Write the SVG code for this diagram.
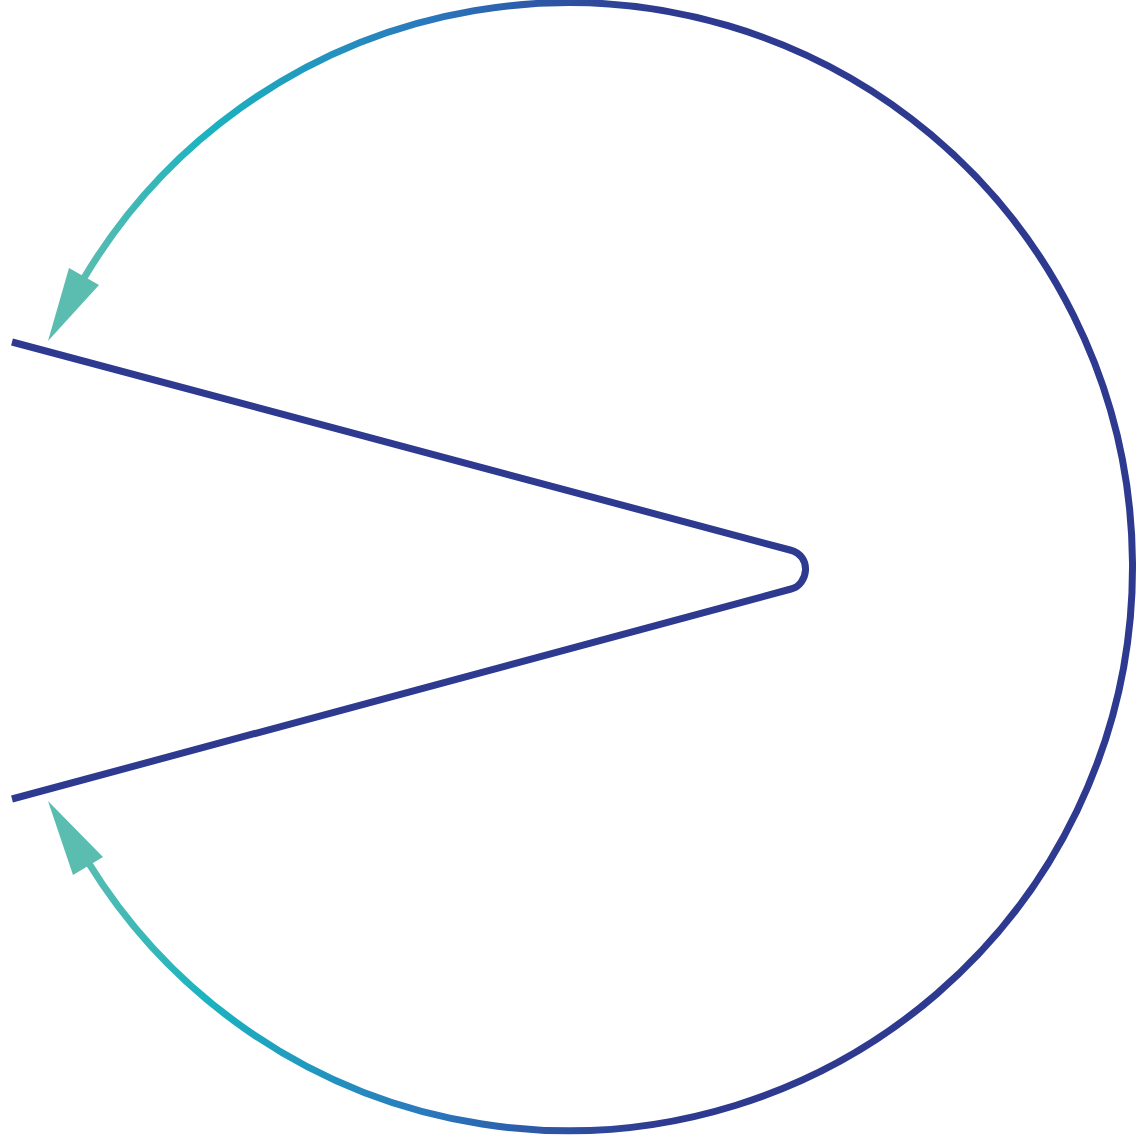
<svg xmlns="http://www.w3.org/2000/svg" width="1142" height="1142" viewBox="0 0 1142 1142">
<defs>
<linearGradient id="g" gradientUnits="userSpaceOnUse" x1="80" y1="0" x2="660" y2="0">
<stop offset="0" stop-color="#5bbdb0"/>
<stop offset="0.22" stop-color="#1ab3c0"/>
<stop offset="0.6" stop-color="#2a78bd"/>
<stop offset="0.88" stop-color="#2e4a9c"/>
<stop offset="1" stop-color="#2e3a8f"/>
</linearGradient>
<style>
.arc{fill:none;stroke:url(#g);stroke-width:7}
.head{fill:#5bbdb0}
.v{fill:none;stroke:#2e3a8f;stroke-width:7;stroke-linejoin:round}
</style>
</defs>
<g id="shape">
<path class="v" d="M 12 342 L 790 550 C 813 556 808 585 791 589 L 12 799"/>
</g>
<g id="connectors">
<path class="arc" d="M 84 278 A 564 564 0 1 1 88 862"/>
<polygon class="head" points="48,341 69,268 99,285"/>
<polygon class="head" points="48,801 73,875 103,857"/>
</g>
</svg>
